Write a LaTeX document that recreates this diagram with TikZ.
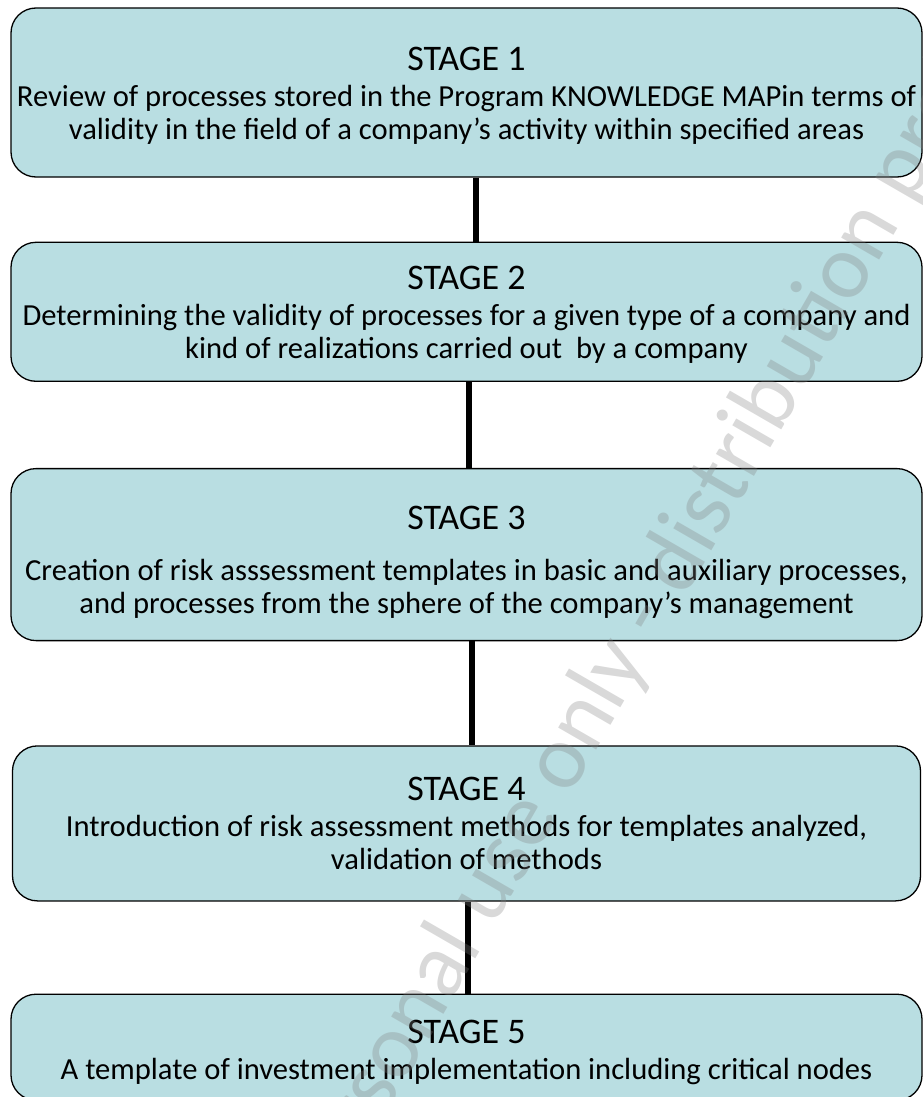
\documentclass[tikz,border=0pt]{standalone}
\usepackage{fontspec}
\setmainfont{Carlito}
\usetikzlibrary{positioning}
\definecolor{stagefill}{RGB}{185,222,226}
\tikzstyle{stage}=[draw=black, line width=1.3pt, fill=stagefill, rounded corners=25pt,
  minimum width=911pt, inner sep=0pt, align=center, font=\fontsize{30.6}{33}\selectfont]
\tikzstyle{link}=[line width=5.5pt]
\tikzstyle{watermark}=[text=gray, opacity=0.3, rotate=60, font=\fontsize{92}{96}\selectfont]
\newcommand{\stagetitle}[2][0pt]{{\fontsize{36}{36}\selectfont\rule{0pt}{#1}STAGE #2}}

\begin{document}
\begin{tikzpicture}
  \useasboundingbox (0,0) rectangle (923pt,-1097pt);
  \node[stage, minimum height=169pt] (1) at (466.5pt,-92.5pt)
    {\stagetitle[30pt]{1}\\[3pt]
     Review of processes stored in the Program KNOWLEDGE MAPin terms of\\
     validity in the field of a company’s activity within specified areas};
  \node[stage, minimum height=139pt] (2) [below=64pt of 1]
    {\stagetitle[30pt]{2}\\[3pt]
     Determining the validity of processes for a given type of a company and\\
     kind of realizations carried out~ by a company};
  \node[stage, minimum height=172pt] (3) [below=86pt of 2]
    {\stagetitle[40pt]{3}\\[18pt]
     Creation of risk asssessment templates in basic and auxiliary processes,\\
     and processes from the sphere of the company’s management};
  \node[stage, minimum height=155pt, minimum width=908pt] (4) [below=104pt of 3]
    {\stagetitle{4}\\[3pt]
     Introduction of risk assessment methods for templates analyzed,\\
     validation of methods};
  \node[stage, minimum height=106pt] (5) [below=92pt of 4]
    {\stagetitle[34pt]{5}\\[3pt]
     A template of investment implementation including critical nodes};
  \path[link] ([xshift=9.5pt]1.south) edge ([xshift=9.5pt]2.north);
  \path[link] ([xshift=2.5pt]2.south) edge ([xshift=2.5pt]3.north);
  \path[link] ([xshift=5.5pt]3.south) edge ([xshift=5.5pt]4.north);
  \path[link] ([xshift=1.5pt]4.south) edge ([xshift=1.5pt]5.north);
  \node[watermark] (wm) at (693pt,-534pt) {personal use only - distribution prohibited};
\end{tikzpicture}
\end{document}
